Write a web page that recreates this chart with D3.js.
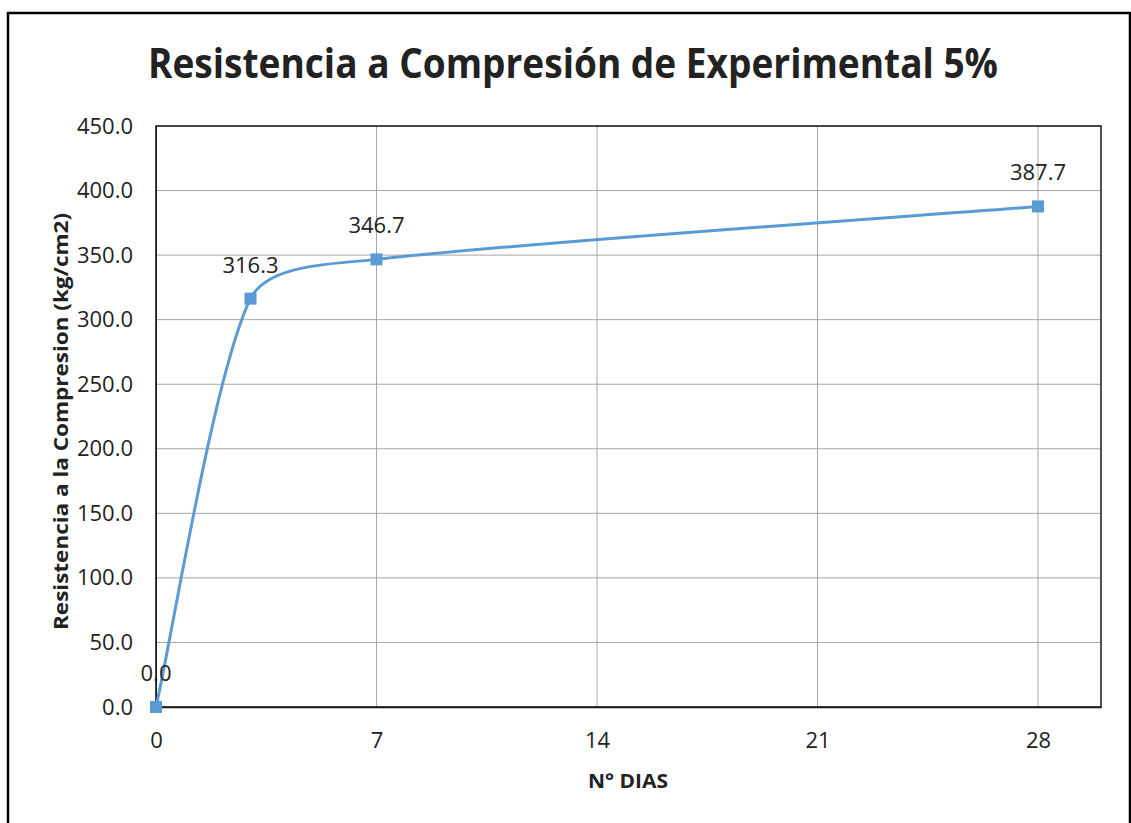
<!DOCTYPE html>
<html>
<head>
<meta charset="utf-8">
<script src="https://cdn.jsdelivr.net/npm/d3@7"></script>
<style>
  html, body { margin: 0; padding: 0; background: #fff; }
  svg { display: block; }
  text { font-family: "Open Sans", Lato, "Liberation Sans", sans-serif; fill: #222; }
</style>
</head>
<body>
<svg id="chart" width="1131" height="823"></svg>
<script>
// Compressive strength over curing days
const days = [0, 3, 7, 28];
const strength = [0.0, 316.3, 346.7, 387.7];
const xTicks = [0, 7, 14, 21, 28];
const yTicks = [0, 50, 100, 150, 200, 250, 300, 350, 400, 450];
const title = "Resistencia a Compresión de Experimental 5%";
const xTitle = "N° DIAS";
const yTitle = "Resistencia a la Compresion (kg/cm2)";

const svg = d3.select("#chart");
const plot = { left: 156, top: 126, right: 1101, bottom: 707 };

// outer chart frame
svg.append("rect")
  .attr("x", 8).attr("y", 13)
  .attr("width", 1122).attr("height", 830)
  .attr("fill", "#fff").attr("stroke", "#000").attr("stroke-width", 2.5);

const x = d3.scaleLinear().domain([0, 30]).range([plot.left, plot.right]);
const y = d3.scaleLinear().domain([0, 450]).range([plot.bottom, plot.top]);

// gridlines
svg.append("g").selectAll("line").data(yTicks).join("line")
  .attr("x1", plot.left).attr("x2", plot.right)
  .attr("y1", d => y(d)).attr("y2", d => y(d))
  .attr("stroke", "#a6a6a6").attr("stroke-width", 1);
svg.append("g").selectAll("line").data(xTicks).join("line")
  .attr("y1", plot.top).attr("y2", plot.bottom)
  .attr("x1", d => x(d)).attr("x2", d => x(d))
  .attr("stroke", "#a6a6a6").attr("stroke-width", 1);

// plot area border
svg.append("rect")
  .attr("x", plot.left).attr("y", plot.top)
  .attr("width", plot.right - plot.left).attr("height", plot.bottom - plot.top)
  .attr("fill", "none").attr("stroke", "#1a1a1a").attr("stroke-width", 1.5);

// axes
const yAxis = d3.axisLeft(y).tickValues(yTicks).tickFormat(d3.format(".1f")).tickSize(0).tickPadding(23);
svg.append("g").attr("transform", `translate(${plot.left},0)`).call(yAxis)
  .call(g => g.select(".domain").attr("stroke", "#1a1a1a"))
  .selectAll("text").style("font-size", "22px").attr("fill", "#222");

const xAxis = d3.axisBottom(x).tickValues(xTicks).tickFormat(d3.format("d")).tickSize(0).tickPadding(25);
svg.append("g").attr("transform", `translate(0,${plot.bottom})`).call(xAxis)
  .call(g => g.select(".domain").attr("stroke", "#1a1a1a").attr("stroke-width", 1.5))
  .selectAll("text").style("font-size", "22px").attr("fill", "#222");

// titles
svg.append("text")
  .attr("x", 148).attr("y", 78)
  .attr("textLength", 850).attr("lengthAdjust", "spacingAndGlyphs")
  .style("font-size", "42px").style("font-weight", "bold")
  .attr("fill", "#000")
  .text(title);

svg.append("text")
  .attr("x", 588).attr("y", 788)
  .attr("textLength", 80).attr("lengthAdjust", "spacingAndGlyphs")
  .style("font-size", "20px").style("font-weight", "bold")
  .text(xTitle);

svg.append("text")
  .attr("transform", `translate(68,630) rotate(-90)`)
  .attr("textLength", 417).attr("lengthAdjust", "spacingAndGlyphs")
  .style("font-size", "19.5px").style("font-weight", "bold")
  .text(yTitle);

// smoothed series: cubic Bezier segments whose handles follow the
// neighbouring points, with handle length capped relative to the segment
const pts = days.map((d, i) => [d, strength[i]]);
const scr = pts.map(p => [x(p[0]), y(p[1])]);
function smoothPath(p) {
  const path = d3.path();
  const dist = (a, b) => Math.hypot(b[0] - a[0], b[1] - a[1]);
  path.moveTo(p[0][0], p[0][1]);
  for (let i = 0; i < p.length - 1; i++) {
    const p0 = p[i - 1] || p[i], p1 = p[i], p2 = p[i + 1], p3 = p[i + 2] || p[i + 1];
    const d12 = dist(p1, p2), cap = d12 * 0.3;
    const t1 = [p2[0] - p0[0], p2[1] - p0[1]], l1 = Math.hypot(...t1);
    const t2 = [p3[0] - p1[0], p3[1] - p1[1]], l2 = Math.hypot(...t2);
    const s1 = l1 / 6 > cap ? cap / l1 : 1 / 6;
    const s2 = l2 / 6 > cap ? cap / l2 : 1 / 6;
    path.bezierCurveTo(
      p1[0] + t1[0] * s1, p1[1] + t1[1] * s1,
      p2[0] - t2[0] * s2, p2[1] - t2[1] * s2,
      p2[0], p2[1]);
  }
  return path.toString();
}
svg.append("path")
  .attr("d", smoothPath(scr))
  .attr("fill", "none")
  .attr("stroke", "#5b9bd5")
  .attr("stroke-width", 3);

// square markers
svg.append("g").selectAll("rect").data(pts).join("rect")
  .attr("x", d => x(d[0]) - 6).attr("y", d => y(d[1]) - 6)
  .attr("width", 12).attr("height", 12)
  .attr("fill", "#5b9bd5");

// data labels
svg.append("g").selectAll("text").data(pts).join("text")
  .attr("x", d => x(d[0])).attr("y", d => y(d[1]) - 26)
  .attr("text-anchor", "middle")
  .style("font-size", "22px")
  .text(d => d3.format(".1f")(d[1]));
</script>
</body>
</html>
